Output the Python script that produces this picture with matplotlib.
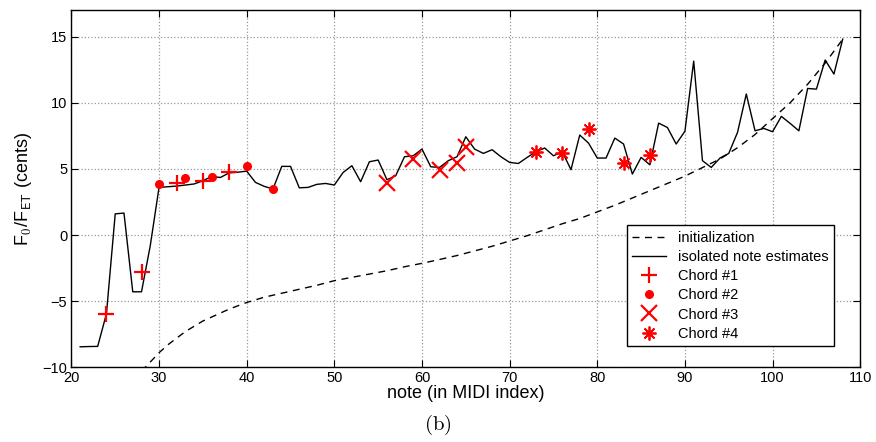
import matplotlib
matplotlib.use("Agg")
import matplotlib.pyplot as plt
import numpy as np

plt.rcParams["font.family"] = ["Liberation Sans", "DejaVu Sans"]
plt.rcParams["mathtext.fontset"] = "cm"

# isolated note estimates, notes 21..108
notes = np.arange(21, 109)
isolated = [
    -8.45, -8.43, -8.42, -5.95, 1.6, 1.66, -4.29, -4.29, -0.8, 3.6,
    3.65, 3.7, 3.78, 3.86, 4.1, 4.43, 4.35, 4.7, 4.75, 4.83,
    3.98, 3.68, 3.48, 5.19, 5.19, 3.57, 3.6, 3.83, 3.9, 3.78,
    4.73, 5.24, 4.03, 5.54, 5.67, 4.18, 4.48, 5.92, 5.99, 6.5,
    5.16, 5.11, 5.62, 5.92, 7.43, 6.5, 6.17, 6.45, 5.92, 5.49,
    5.41, 5.87, 6.3, 6.58, 5.99, 6.3, 4.94, 7.56, 6.95, 5.82,
    5.82, 7.33, 6.88, 4.61, 5.87, 5.31, 8.46, 8.13, 6.88, 7.85,
    13.15, 5.62, 5.11, 5.82, 6.17, 7.76, 10.66, 7.88, 8.06, 7.81,
    8.97, 8.44, 7.88, 11.08, 11.03, 13.23, 12.17, 14.81,
]

# initialization curve (read at sampled notes)
init_notes = [28, 29, 30, 31, 32, 33, 34, 35, 36, 38, 40, 42, 44, 46, 48, 50,
              52, 54, 56, 58, 60, 62, 64, 66, 68, 70, 72, 74, 76, 78, 80, 82,
              84, 86, 88, 90, 92, 94, 96, 98, 100, 102, 104, 106, 108]
init_vals = [-10.3, -9.6, -8.9, -8.3, -7.8, -7.3, -6.9, -6.5, -6.2, -5.6, -5.1,
             -4.7, -4.4, -4.1, -3.8, -3.45, -3.2, -2.95, -2.7, -2.4, -2.14,
             -1.85, -1.55, -1.2, -0.85, -0.45, -0.05, 0.4, 0.85, 1.25, 1.75,
             2.25, 2.8, 3.35, 3.9, 4.45, 5.1, 5.75, 6.6, 7.6, 8.8, 10.0, 11.4,
             13.0, 14.8]

chord1_x = [24, 28, 32, 35, 38]
chord1_y = [-5.95, -2.83, 3.9, 4.05, 4.78]
chord2_x = [30, 33, 36, 40, 43]
chord2_y = [3.85, 4.31, 4.36, 5.19, 3.45]
chord3_x = [56, 59, 62, 64, 65]
chord3_y = [3.9, 5.72, 4.91, 5.41, 6.62]
chord4_x = [73, 76, 79, 83, 86]
chord4_y = [6.27, 6.17, 8.01, 5.41, 6.04]

fig = plt.figure(figsize=(8.76, 4.42), dpi=100)
ax = fig.add_axes([0.0815, 0.169, 0.9005, 0.808])

ax.plot(init_notes, init_vals, color="black", ls=(0, (5, 4)), lw=1, label="initialization")
ax.plot(notes, isolated, "k-", lw=1, label="isolated note estimates")
ax.plot(chord1_x, chord1_y, "+", color="red", ms=12, mew=1.6, ls="none", label="Chord #1")
ax.plot(chord2_x, chord2_y, ".", color="red", ms=11, ls="none", label="Chord #2")
ax.plot(chord3_x, chord3_y, "x", color="red", ms=11, mew=1.6, ls="none", label="Chord #3")
ax.plot(chord4_x, chord4_y, marker=(8, 2, 0), color="red", ms=10, mew=1.3, ls="none", label="Chord #4")

ax.set_xlim(20, 110)
ax.set_ylim(-10, 17)
ax.set_xticks(np.arange(20, 111, 10))
ax.set_yticks([-10, -5, 0, 5, 10, 15])
ax.grid(True, ls=":", color="0.6", lw=0.9)
ax.tick_params(direction="in", top=True, right=True, labelsize=10.5, length=5, pad=3)
for s in ax.spines.values():
    s.set_linewidth(1.0)

ax.set_xlabel("note (in MIDI index)", fontsize=13, labelpad=0)
ax.set_ylabel(r"F$_\mathsf{0}$/F$_\mathsf{ET}$ (cents)", fontsize=13, labelpad=6)
fig.text(0.5, 0.038, r"$\mathrm{(b)}$", ha="center", va="center", fontsize=15)

leg = ax.legend(loc="lower right", bbox_to_anchor=(0.976, 0.038), fontsize=10.5,
                fancybox=False, edgecolor="black", framealpha=1,
                handlelength=2.3, labelspacing=0.35, borderpad=0.4)
leg.get_frame().set_linewidth(1.0)

fig.savefig("out.png", dpi=100)
